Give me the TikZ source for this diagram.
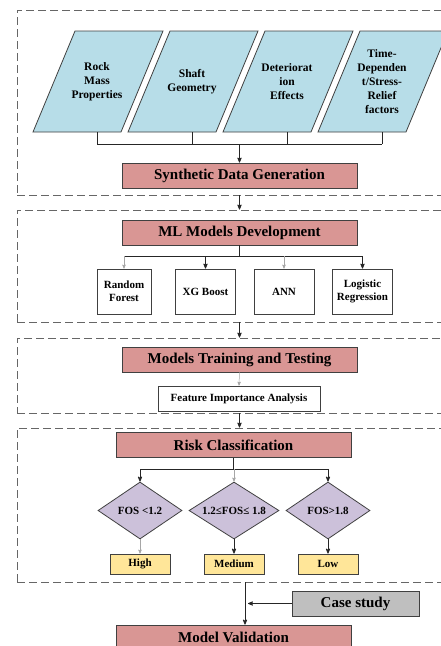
\documentclass[tikz,border=0pt]{standalone}
\usepackage{fontspec}
\setmainfont{Liberation Serif}
\usetikzlibrary{arrows, shapes.geometric, positioning}
\definecolor{paraBlue}{HTML}{B7DDE8}
\definecolor{stageRed}{HTML}{D99694}
\definecolor{diaPurple}{HTML}{CCC1DA}
\definecolor{outYellow}{HTML}{FFE699}
\definecolor{caseGray}{HTML}{BFBFBF}

\begin{document}
\begin{tikzpicture}[x=1pt, y=-1pt, >=stealth', line width=0.8pt,
    frame/.style={draw=black!60, dash pattern=on 8pt off 4pt, line width=0.9pt, minimum width=450pt, inner sep=0pt},
    stage/.style={draw=black!75, fill=stageRed, minimum width=235pt, minimum height=25pt, inner sep=0pt, font=\bfseries\fontsize{15}{17}\selectfont},
    model/.style={draw=black!75, fill=white, minimum width=60pt, minimum height=45pt, inner sep=0pt, align=center, font=\bfseries\fontsize{11}{13}\selectfont},
    dia/.style={diamond, aspect=1.5, draw=black!75, fill=diaPurple, minimum width=84pt, minimum height=57pt, inner sep=0pt, font=\bfseries\fontsize{11}{13}\selectfont},
    risk/.style={draw=black!75, fill=outYellow, minimum width=60pt, minimum height=20pt, inner sep=0pt, font=\bfseries\fontsize{11}{13}\selectfont},
    para/.style={draw=black!75, fill=paraBlue},
    link/.style={draw=black!85},
    faint/.style={draw=black!35, line width=0.5pt}]

  \path[use as bounding box, clip] (0,0) rectangle (441,646);

  % dashed stage frames
  \node[frame, minimum height=185pt] (box1) at (242,102.5) {};
  \node[frame, minimum height=112pt] (box2) at (242,266) {};
  \node[frame, minimum height=75pt] (box3) at (242,375.5) {};
  \node[frame, minimum height=154pt] (box4) at (242,505) {};

  % input parameters
  \foreach \cx/\nm/\txt in {97/rock/{Rock\\Mass\\Properties}, 192/shaft/{Shaft\\Geometry},
      287/deter/{Deteriorat\\ion\\Effects}, 382/time/{Time-\\Dependen\\t/Stress-\\Relief\\factors}}{
    \draw[para] (\cx-64,132) -- ++(42,-101) -- ++(88,0) -- ++(-42,101) -- cycle;
    \node[align=center, inner sep=0pt, font=\bfseries\fontsize{11.5}{14}\selectfont] (\nm) at (\cx,82) {\txt};
  }
  \coordinate (pbot) at (0,132);
  \coordinate (bus) at (0,144);
  \foreach \nm in {rock, shaft, deter, time}
    \draw[link] (\nm |- pbot) -- (\nm |- bus);
  \draw[link] (rock |- bus) -- (time |- bus);

  \node[stage] (synth) at (239.5,175.5) {Synthetic Data Generation};
  \draw[link, ->] (synth |- bus) -- (synth.north);

  % ML models
  \node[stage] (ml) at (239.5,232.5) {ML Models Development};
  \node[model, minimum width=54pt] (rf) at (124,291.5) {Random\\Forest};
  \node[model] (xgb) at (205.5,291.5) {XG Boost};
  \node[model] (ann) at (284,291.5) {ANN};
  \node[model] (lr) at (362.5,291.5) {Logistic\\Regression};
  \coordinate (mlbus) at (0,256);
  \draw[link] (ml.south) -- (ml.south |- mlbus);
  \draw[link] (rf.north |- mlbus) -- (lr.north |- mlbus);
  \draw[faint, ->] (rf.north |- mlbus) -- (rf.north);
  \draw[link, ->] (xgb.north |- mlbus) -- (xgb.north);
  \draw[faint, ->] (ann.north |- mlbus) -- (ann.north);
  \draw[link, ->] (lr.north |- mlbus) -- (lr.north);

  % training
  \node[stage] (train) at (239.5,359.5) {Models Training and Testing};
  \node[model, minimum width=162pt, minimum height=25pt, fill=white] (feat) at (239,398.5) {Feature Importance Analysis};
  \draw[faint, ->] (train.south) -- (feat.north);

  % risk classes
  \node[stage] (riskc) at (233.5,445) {Risk Classification};
  \node[dia] (d1) at (140,510.5) {FOS <1.2};
  \node[dia, minimum width=90pt] (d2) at (234,510.5) {1.2≤FOS≤ 1.8};
  \node[dia] (d3) at (328,510.5) {FOS>1.8};
  \node[risk] (high) at (140,564) {High};
  \node[risk] (med) at (234,564) {Medium};
  \node[risk] (low) at (328,564) {Low};
  \coordinate (rbus) at (0,469);
  \draw[link] (riskc.south) -- (riskc.south |- rbus);
  \draw[link] (d1.north |- rbus) -- (d3.north |- rbus);
  \draw[link, ->] (d1.north |- rbus) -- (d1.north);
  \draw[faint, ->] (d2.north |- rbus) -- (d2.north);
  \draw[link, ->] (d3.north |- rbus) -- (d3.north);
  \draw[faint, ->] (d1.south) -- (high.north);
  \draw[link, ->] (d2.south) -- (med.north);
  \draw[link, ->] (d3.south) -- (low.north);

  % between frames
  \draw[link, ->] (box1.south -| synth) -- (box2.north -| synth);
  \draw[link, ->] (box2.south -| synth) -- (box3.north -| synth);
  \draw[link, ->] (box3.south -| synth) -- (box4.north -| synth);

  % validation
  \node[stage] (valid) at (233.5,637.5) {Model Validation};
  \node[stage, fill=caseGray, minimum width=127pt] (case) at (355.5,603.5) {Case study};
  \coordinate (vtop) at (245,0);
  \coordinate (join) at (248,603.5);
  \draw[link, ->] (box4.south -| vtop) -- (valid.north -| vtop);
  \draw[link, ->] (case.west) -- (join);
\end{tikzpicture}
\end{document}
